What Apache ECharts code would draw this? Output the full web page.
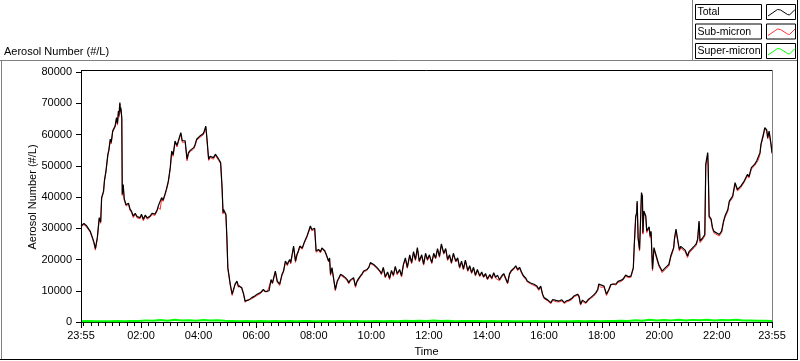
<!DOCTYPE html>
<html><head><meta charset="utf-8">
<script src="https://cdn.jsdelivr.net/npm/echarts@6/dist/echarts.min.js"></script>
<style>html,body{margin:0;padding:0;background:#fff}#c{width:800px;height:361px}</style>
</head><body><div id="c"></div>
<script>
// minutes since 23:55
const times = [
0,6,12,15,19,24,27,30,34,38,
41,43,47,49,52,56,58,61,63,66,
71,74,76,78,79,81,82,83,85,86,
88,90,92,94,97,99,102,105,109,113,
117,123,126,130,134,138,144,148,154,159,
161,165,168,171,175,178,182,186,189,192,
196,200,203,208,211,214,217,221,224,228,
231,235,238,241,245,248,252,255,257,260,
262,266,269,273,276,280,283,287,289,291,
294,296,297,299,302,304,306,309,311,315,
318,321,325,328,330,335,339,342,345,349,
353,356,361,367,370,374,378,380,384,388,
392,396,399,401,405,409,411,414,419,422,
426,430,432,435,437,440,443,447,450,453,
456,461,465,468,471,474,478,481,485,487,
488,490,495,499,502,506,508,511,516,518,
520,523,527,530,534,537,541,546,551,555,
558,561,565,568,572,575,578,582,586,589,
593,596,600,603,607,610,614,617,620,623,
626,630,634,639,643,647,651,655,659,664,
668,672,676,680,685,689,693,697,701,705,
710,714,718,722,726,731,735,739,743,747,
751,756,760,764,768,772,776,781,785,789,
793,797,801,806,810,814,818,822,826,831,
835,839,843,847,852,856,860,864,868,872,
877,881,885,889,893,897,902,906,910,914,
918,922,927,930,934,937,944,950,954,958,
962,965,969,973,979,983,990,996,1002,1007,
1012,1017,1023,1027,1031,1035,1038,1041,1045,1052,
1057,1062,1068,1073,1077,1079,1083,1090,1095,1100,
1104,1108,1115,1119,1125,1130,1135,1141,1146,1151,
1153,1156,1158,1159,1161,1164,1166,1168,1170,1171,
1173,1177,1179,1182,1184,1186,1188,1190,1191,1194,
1198,1201,1204,1208,1211,1214,1218,1225,1229,1235,
1237,1240,1243,1247,1250,1254,1259,1264,1267,1271,
1278,1282,1285,1288,1290,1295,1300,1302,1306,1307,
1309,1313,1316,1319,1323,1330,1335,1339,1342,1348,
1351,1355,1358,1363,1368,1371,1375,1382,1389,1392,
1397,1404,1408,1411,1415,1417,1422,1425,1429,1431,
1434,1438,1440
];
const total = [
30700,31500,30700,31200,29100,27000,25500,23500,27000,33400,
32000,39800,41900,45500,48300,53700,55000,58500,57500,61100,
62700,65400,63500,67500,66000,70200,67500,68600,65400,40900,
44000,39500,39800,37500,37100,38000,36200,35500,33900,34800,
33700,33400,34500,32900,34200,33300,33900,34800,34500,36000,
37100,36500,39800,39000,40900,42500,45100,49400,54700,53500,
57900,56500,57000,60600,58000,58500,58000,52100,54200,55000,
55300,55800,56900,58500,59000,59500,59600,60300,61100,62700,
59600,52100,53000,52600,52600,53700,53200,52100,52100,51000,
43000,35000,36000,35500,34500,27000,17400,14200,12100,8900,
8900,12100,13100,11500,12100,11000,8900,6700,7300,7000,
7500,7800,8200,8900,8500,9400,9800,10400,9700,9900,
10000,13600,12500,12100,16300,13100,12800,12100,15300,16300,
19500,18400,19200,20000,19000,21600,24300,19500,21600,22800,
24300,23700,25400,26500,27500,28000,30700,29600,29100,30000,
27500,22700,23200,22500,23700,23900,22800,22200,19500,20500,
15300,17400,17000,10400,13100,14000,15300,14800,14200,13500,
12600,13400,13100,14200,11500,13000,13800,14700,15500,16300,
16000,16800,17500,19000,19500,18400,18800,17400,17000,16300,
15500,17500,14500,16000,14000,16500,15000,17800,15500,16800,
14800,18500,20500,17500,21500,19000,22500,20000,23800,19500,
21500,18500,22000,20000,21500,19000,22000,20500,23500,21000,
25000,22000,23500,20000,21500,19000,22000,19500,20500,17500,
19500,17000,19800,16500,18000,15800,17500,15000,16800,14800,
16000,14500,15500,13800,15200,14000,15800,14300,15000,13500,
14800,15500,14000,12500,15500,16500,17200,18000,16800,17500,
16000,14800,14000,13100,12800,12500,12100,11500,10500,11500,
8900,7800,7500,7000,6200,7200,6900,6700,7100,6200,
6800,7000,7600,8300,8000,8900,8200,5700,7000,6200,
7200,7800,8600,9400,10500,12100,11500,11500,8900,10400,
12000,12600,12200,13000,13300,13800,15000,14500,14700,17400,
24800,33900,35000,38700,27000,23200,23500,41400,40300,28600,
35500,33900,29100,28600,30500,27500,29000,20600,16900,23800,
21600,22000,18400,17200,16300,16800,17400,18400,21100,23800,
27000,29700,26800,23200,24200,23800,23000,21100,22500,22200,
24300,25000,26500,32300,25900,26800,28000,50500,54200,50000,
33900,33000,30200,29000,28600,28000,29100,32300,33900,36000,
38700,39000,40300,44600,42400,42000,43500,45100,47300,46500,
49400,50500,51500,52100,54200,56900,60000,62200,61500,59000,
61100,56900,54200
];
const subMicron = [
30400,31200,30300,30900,28800,26600,25200,23000,26700,33000,
31600,39500,41500,45100,48000,53200,54700,58100,57000,60800,
62300,65000,63000,67100,65500,69800,67000,68200,65000,40500,
43600,39000,39400,37100,36600,37700,35800,35100,33400,34500,
33300,33000,34100,32400,33900,32900,33500,34400,34100,35600,
36700,36000,39400,38600,40500,42100,44700,49000,54300,53000,
57500,56000,56600,60200,57500,58100,57600,51600,53800,54600,
54900,55400,56400,58100,58600,59100,59100,59900,60700,62300,
59100,51700,52600,52200,52100,53300,52800,51700,51600,50600,
42600,34600,35600,35000,34100,26700,17100,13900,11800,8500,
8600,11800,12800,11100,11800,10600,8600,6300,7000,6600,
7200,7500,7900,8500,8200,9100,9500,10000,9400,9600,
9700,13200,12200,11700,16000,12700,12500,11700,15000,15900,
19200,18000,18900,19600,18600,21300,23900,19100,21300,22400,
24000,23300,25100,26100,27200,27600,30400,29200,28800,29600,
27100,22300,22900,22100,23400,23500,22500,21800,19200,20100,
14900,17100,16600,10000,12800,13600,15000,14400,13900,13100,
12200,13100,12700,13900,11100,12700,13400,14400,15100,16000,
15600,16500,17100,18700,19100,18100,18400,17100,16600,16000,
15100,17200,14100,15700,13600,16200,14600,17500,15100,16500,
14400,18200,20100,17200,21100,18700,22100,19700,23400,19200,
21100,18200,21600,19700,21100,18700,21600,20200,23100,20700,
24600,21700,23100,19700,21100,18700,21600,19200,20100,17200,
19100,16700,19400,16200,17600,15500,17100,14700,16400,14500,
15600,14200,15100,13500,14800,13700,15400,14000,14600,13200,
14400,15200,13600,12200,15100,16200,16800,17700,16400,17200,
15600,14500,13600,12800,12400,12200,11700,11200,10100,11200,
8500,7500,7100,6700,5800,6900,6500,6400,6700,5900,
6400,6700,7200,8000,7600,8600,7800,5400,6600,5900,
6800,7500,8200,9100,10100,11800,11100,11200,8500,10100,
11600,12300,11800,12700,12900,13500,14600,14200,14300,17000,
24300,33400,34400,38100,26500,22700,23000,40800,39800,28100,
35000,33400,28600,28100,30000,27000,28500,20100,16400,23300,
21100,21500,17900,16800,15800,16400,16900,17900,20600,23300,
26500,29200,26300,22700,23700,23300,22500,20600,22000,21700,
23800,24500,26000,31800,25400,26300,27500,49900,53600,49400,
33400,32500,29700,28500,28100,27500,28600,31800,33400,35500,
38200,38500,39800,44100,41900,41600,43000,44700,46800,46100,
48900,50100,51000,51700,53700,56500,59500,61800,61000,58600,
60600,56500,53800
];
const superTimes = [
0,15,30,45,60,75,90,105,120,
135,150,165,180,195,210,225,240,255,270,285,300,
315,330,345,360,375,390,405,420,435,450,465,480,495,510,525,540,555,570,585,600,
615,630,645,660,675,690,705,720,735,750,765,780,795,810,825,840,855,870,885,900,
915,930,945,960,975,990,1005,1020,1035,1050,1065,1080,1095,1110,1125,1140,
1155,1170,1185,1200,1215,1230,1245,1260,1275,1290,1305,1320,1335,1350,1365,1380,
1395,1410,1425,1440
];
const superMicron = [
250,300,220,280,260,310,240,290,330,
520,380,650,420,700,480,560,390,620,450,580,400,
350,280,320,260,300,240,330,280,310,260,350,290,240,300,270,320,260,290,240,280,
330,270,300,250,420,310,380,290,460,330,400,280,350,300,360,270,310,260,300,240,
280,250,300,230,270,240,280,250,300,260,320,280,350,300,380,330,
550,420,700,480,620,520,750,450,680,560,720,480,640,530,700,460,
500,380,420,350
];
const xLabelValues = [0,125,245,365,485,605,725,845,965,1085,1205,1325,1440];
const yMin = 0, yMax = 80000, yStep = 10000;
const legendNames = ['Total','Sub-micron','Super-micron'];
const seriesColors = ['#000000','#ff3333','#00ff00'];

const FONT = '"Liberation Sans", Arial, sans-serif';
function clock(m){
  const t = (1435 + m) % 1440;
  const h = Math.floor(t/60), mm = t%60;
  return (h<10?'0':'')+h+':'+(mm<10?'0':'')+mm;
}
const minorTickValues = [0];
for (let m = 5; m < 1440; m += 15) minorTickValues.push(m);
minorTickValues.push(1440);

// layout (pixels)
const G = {left:81, right:28, top:72, bottom:39};
const W = 800, H = 361;
const plotL = G.left, plotR = W - G.right, plotB = H - G.bottom;

const chart = echarts.init(document.getElementById('c'), null, {renderer:'canvas'});

const legendRowTops = [4, 23.5, 43];
const zig = [[1.5,11.5],[11,5],[14,5.5],[21,10],[23,10.5],[28.5,5]];
const legendGraphics = [];
legendNames.forEach((n,i)=>{
  const t = legendRowTops[i];
  legendGraphics.push({type:'rect', shape:{x:695.5,y:t+0.5,width:66,height:15}, style:{fill:'#fff',stroke:'#000',lineWidth:1}, z:10});
  legendGraphics.push({type:'text', x:697.5, y:t+8.5, style:{text:n, font:'10.5px '+FONT, fill:'#000', verticalAlign:'middle'}, z:11});
  legendGraphics.push({type:'rect', shape:{x:766.5,y:t+0.5,width:29,height:15}, style:{fill:'#fff',stroke:'#000',lineWidth:1}, z:10});
  legendGraphics.push({type:'polyline', shape:{points:zig.map(p=>[766.5+p[0], t+0.5+p[1]])}, style:{stroke:seriesColors[i], fill:null, lineWidth:1}, z:11});
});

const baseGraphics = [
    {type:'text', left:4, top:46, style:{text:'Aerosol Number (#/L)', font:'11px '+FONT, fill:'#000'}},
    {type:'line', shape:{x1:0,y1:60.5,x2:797,y2:60.5}, style:{stroke:'#808080', lineWidth:1}},
    {type:'line', shape:{x1:692.5,y1:0,x2:692.5,y2:60}, style:{stroke:'#808080', lineWidth:1}},
    {type:'line', shape:{x1:1.5,y1:61,x2:1.5,y2:359}, style:{stroke:'#808080', lineWidth:1}},
    {type:'line', shape:{x1:0,y1:359.5,x2:798,y2:359.5}, style:{stroke:'#000', lineWidth:1}},
    {type:'line', shape:{x1:797.5,y1:0,x2:797.5,y2:360}, style:{stroke:'#000', lineWidth:1}},
    {type:'line', shape:{x1:plotL,y1:70.5,x2:plotR+0.5,y2:70.5}, style:{stroke:'#000', lineWidth:1}, z:5},
    {type:'line', shape:{x1:plotR+0.5,y1:70.5,x2:plotR+0.5,y2:plotB}, style:{stroke:'#808080', lineWidth:1}, z:5},
    {type:'line', shape:{x1:plotL+0.5,y1:70.5,x2:plotL+0.5,y2:plotB}, style:{stroke:'#000', lineWidth:1}, z:5}
].concat(legendGraphics);

const option = {
  animation:false,
  backgroundColor:'#fff',
  textStyle:{fontFamily:FONT},
  grid:{left:G.left, right:G.right, top:G.top, bottom:G.bottom, containLabel:false, outerBoundsMode:'none'},
  xAxis:{type:'value', min:0, max:1440, position:'bottom',
     name:'Time', nameLocation:'middle', nameGap:24, nameMoveOverlap:false,
     nameTextStyle:{color:'#000', fontSize:11, fontFamily:FONT},
     axisLine:{show:true, onZero:false, lineStyle:{color:'#000', width:1}},
     axisTick:{show:false},
     axisLabel:{show:true, customValues:xLabelValues, formatter:v=>clock(v), color:'#000', fontSize:11, fontFamily:FONT, margin:8, hideOverlap:false},
     splitLine:{show:false}},
  yAxis:{type:'value', min:yMin, max:yMax, interval:yStep, position:'left',
     name:'Aerosol Number (#/L)', nameLocation:'middle', nameGap:43, nameRotate:90, nameMoveOverlap:false,
     nameTextStyle:{color:'#000', fontSize:11, fontFamily:FONT},
     axisLine:{show:true, lineStyle:{color:'#000', width:1}},
     axisTick:{show:true, length:5, lineStyle:{color:'#000', width:1}},
     axisLabel:{color:'#000', fontSize:11, fontFamily:FONT, margin:9, formatter:v=>String(v)},
     splitLine:{show:false}},
  series:[
    {name:'Super-micron', type:'line', showSymbol:false, symbol:'none',
     data: superTimes.map((t,i)=>[t, superMicron[i]]),
     lineStyle:{color:seriesColors[2], width:2}, itemStyle:{color:seriesColors[2]}, z:2},
    {name:'Sub-micron', type:'line', showSymbol:false, symbol:'none',
     data: times.map((t,i)=>[t, subMicron[i]]),
     lineStyle:{color:seriesColors[1], width:1}, itemStyle:{color:seriesColors[1]}, z:3},
    {name:'Total', type:'line', showSymbol:false, symbol:'none',
     data: times.map((t,i)=>[t, total[i]]),
     lineStyle:{color:seriesColors[0], width:1.2}, itemStyle:{color:seriesColors[0]}, z:4}
  ],
  graphic: baseGraphics
};
chart.setOption(option);

// x-axis ticks (15-min minor, longer at labels), placed through the axis scale
const tickGraphics = [];
minorTickValues.forEach(v=>{
  const x = Math.round(chart.convertToPixel({xAxisIndex:0}, v)) + 0.5;
  const major = xLabelValues.indexOf(v) >= 0;
  tickGraphics.push({type:'line', shape:{x1:x, y1:plotB, x2:x, y2:plotB + (major ? 6 : 4)}, style:{stroke:'#000', lineWidth:1}, z:6});
});
xLabelValues.forEach(v=>{
  if (minorTickValues.indexOf(v) < 0) {
    const x = Math.round(chart.convertToPixel({xAxisIndex:0}, v)) + 0.5;
    tickGraphics.push({type:'line', shape:{x1:x, y1:plotB, x2:x, y2:plotB+6}, style:{stroke:'#000', lineWidth:1}, z:6});
  }
});
chart.setOption({graphic: baseGraphics.concat(tickGraphics)});
</script>
</body></html>
